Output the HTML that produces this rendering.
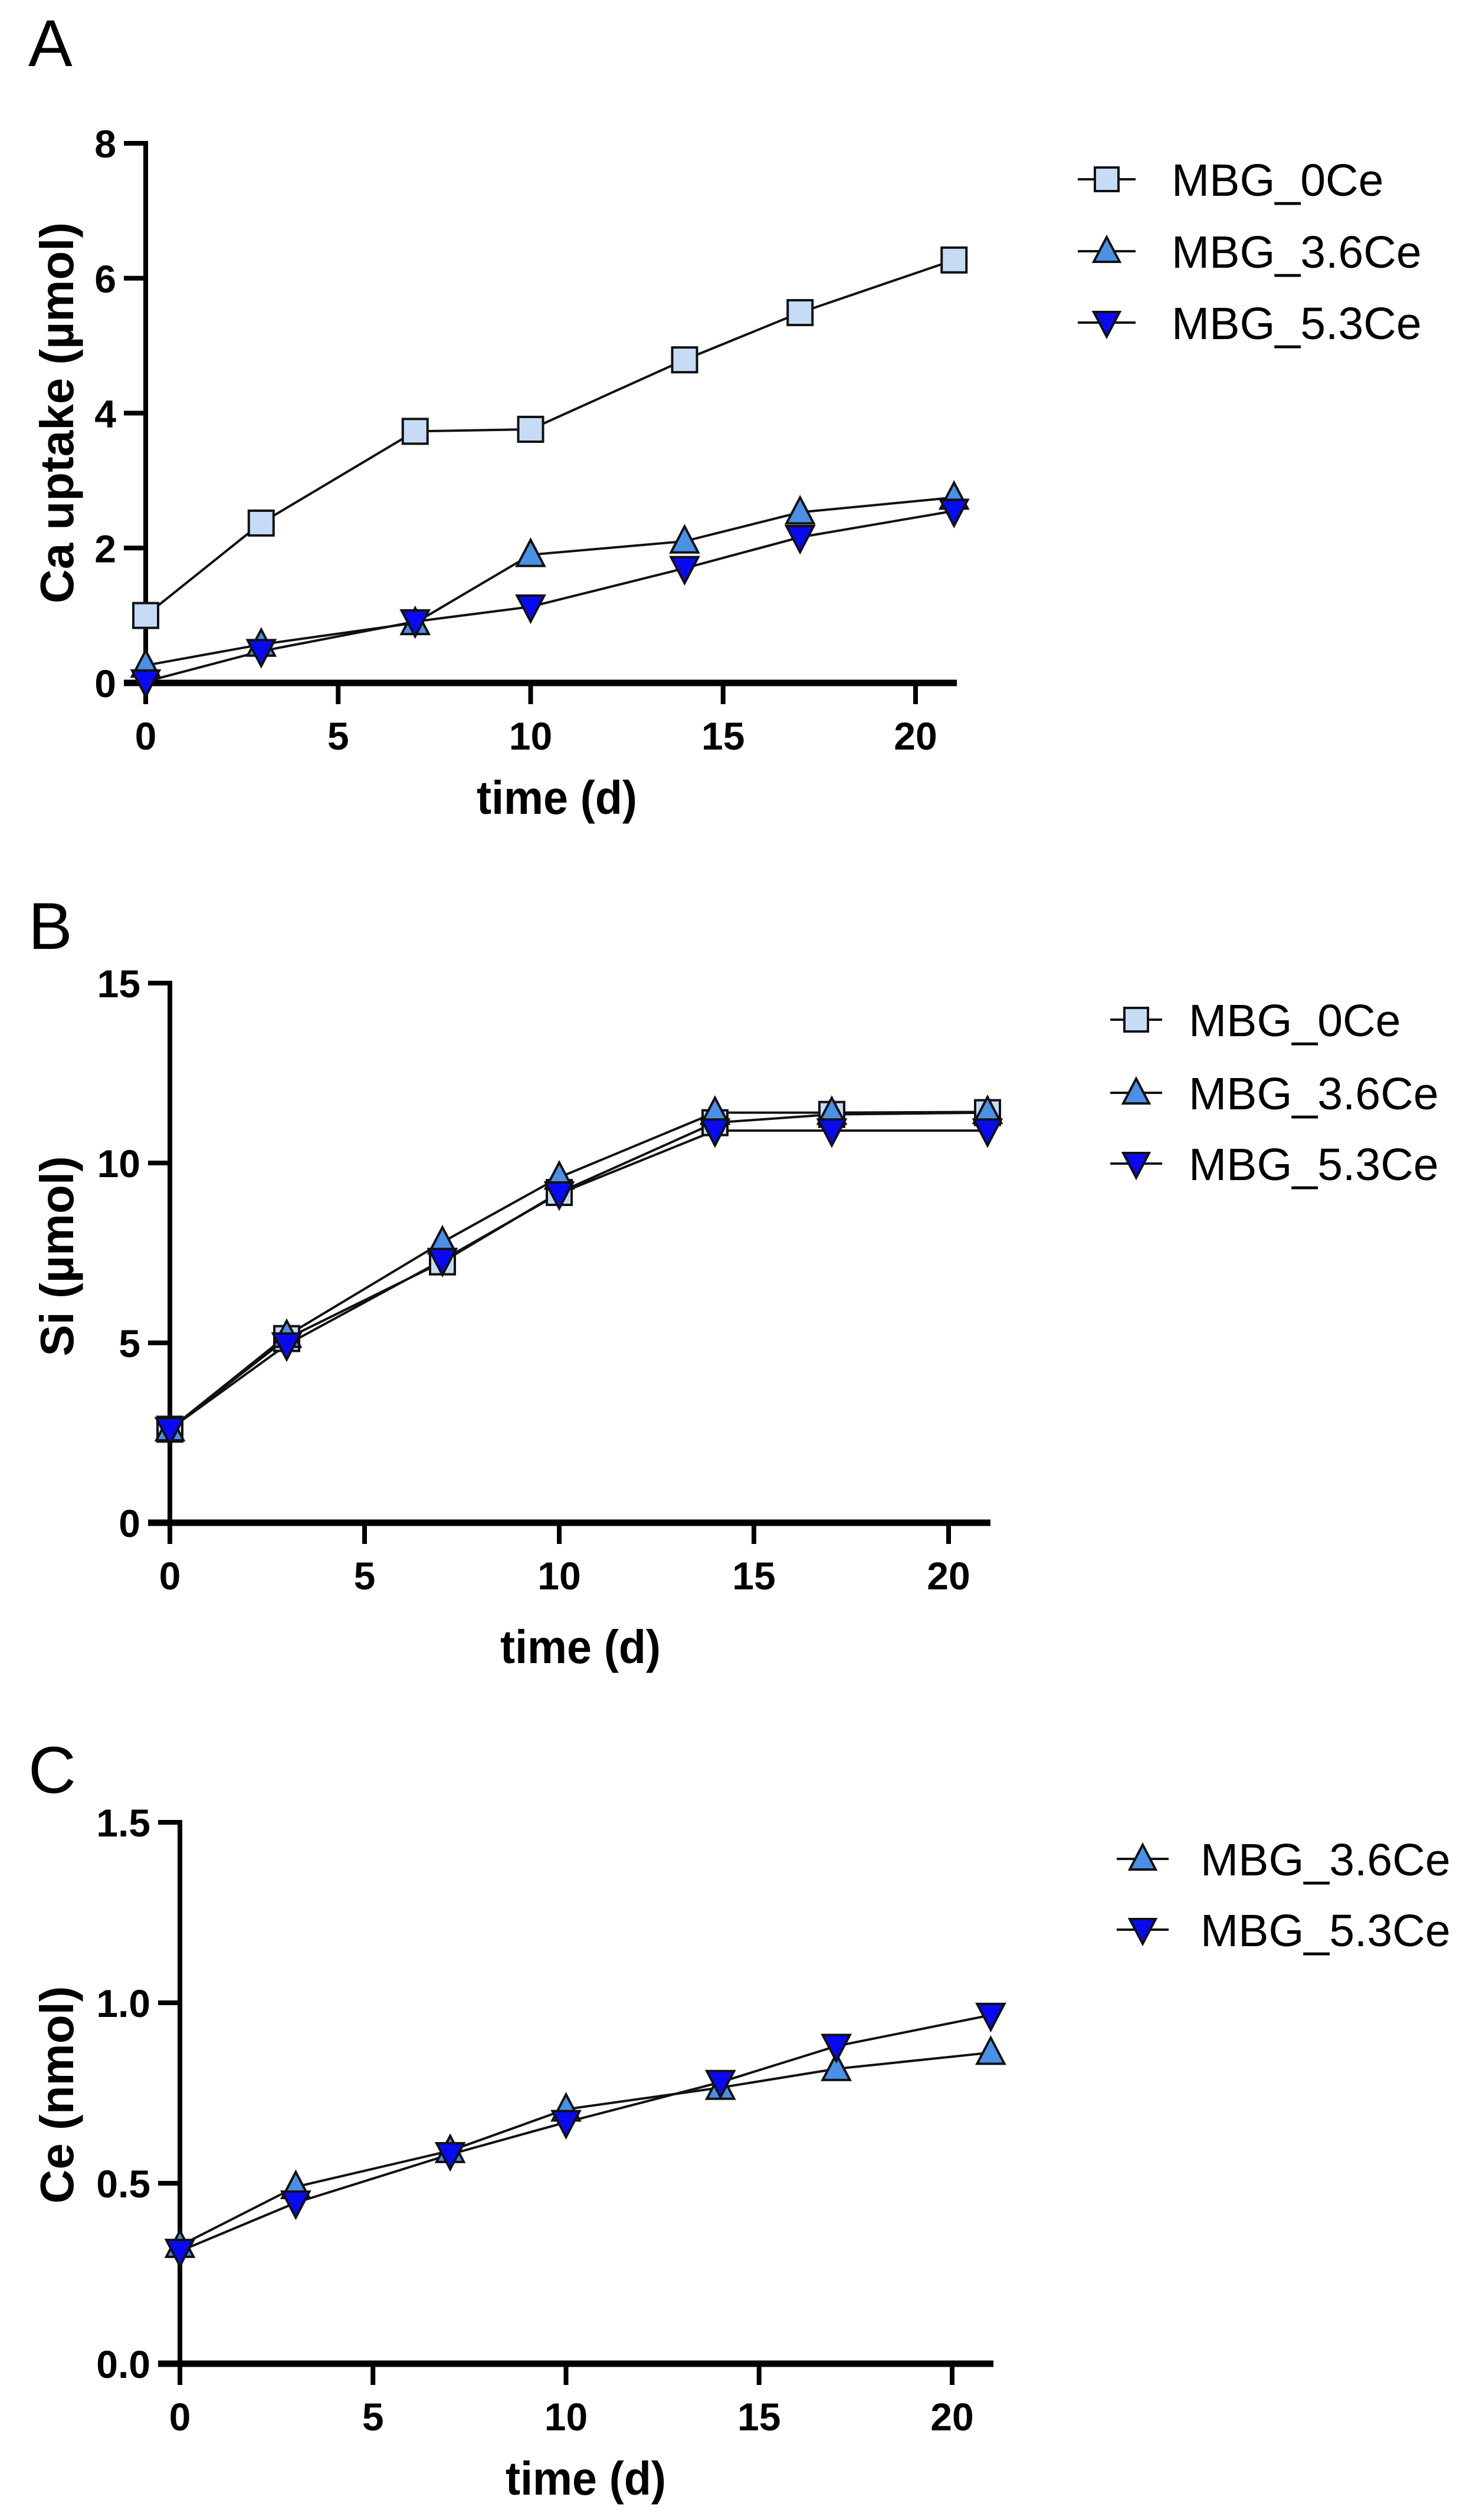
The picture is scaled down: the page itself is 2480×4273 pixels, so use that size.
<!DOCTYPE html>
<html><head><meta charset="utf-8">
<style>
html,body{margin:0;padding:0;background:#fff;}
svg{display:block;font-family:"Liberation Sans",Arial,sans-serif;}
</style></head>
<body>
<svg id="fig" width="2480" height="4273" viewBox="0 0 2480 4273" xmlns="http://www.w3.org/2000/svg">
<rect width="2480" height="4273" fill="#fff"/>
</svg>
<script>
// ---------- data ----------
const days = [0, 3, 7, 10, 14, 17, 21];
const seriesNames = ["MBG_0Ce", "MBG_3.6Ce", "MBG_5.3Ce"];
// Panel A: Ca uptake (µmol)
const caMBG0 = [1.0, 2.37, 3.73, 3.76, 4.79, 5.49, 6.27];
const caMBG36 = [0.26, 0.57, 0.89, 1.9, 2.1, 2.53, 2.75];
const caMBG53 = [0.02, 0.47, 0.91, 1.13, 1.7, 2.16, 2.55];
// Panel B: Si (µmol)
const siMBG0 = [2.6, 5.12, 7.25, 9.18, 11.12, 11.35, 11.4];
const siMBG36 = [2.6, 5.2, 7.8, 9.6, 11.4, 11.4, 11.42];
const siMBG53 = [2.6, 4.95, 7.3, 9.15, 10.9, 10.9, 10.9];
// Panel C: Ce (nmol)
const ceMBG36 = [0.327, 0.49, 0.59, 0.705, 0.765, 0.817, 0.862];
const ceMBG53 = [0.312, 0.446, 0.58, 0.669, 0.78, 0.88, 0.966];
// ticks
const xTicks = [0, 5, 10, 15, 20];
const yTicksA = [0, 2, 4, 6, 8];
const yTicksB = [0, 5, 10, 15];
const yTicksC = [0, 0.5, 1.0, 1.5];
const yTickLabelsC = ["0.0", "0.5", "1.0", "1.5"];

const NS = "http://www.w3.org/2000/svg";
const svg = document.getElementById("fig");
function mk(tag, attrs, parent) {
  const e = document.createElementNS(NS, tag);
  for (const k in attrs) e.setAttribute(k, attrs[k]);
  (parent || svg).appendChild(e);
  return e;
}
const styles = [
  {shape: "square", fill: "#c6dcf6"},
  {shape: "up", fill: "#4a90e6"},
  {shape: "down", fill: "#0a0af2"}
];
function marker(g, shape, cx, cy, fill, s) {
  let el;
  if (shape === "square") {
    el = mk("rect", {x: cx - s / 2, y: cy - s / 2, width: s, height: s, fill: fill, stroke: "#111", "stroke-width": 4}, g);
  } else if (shape === "up") {
    el = mk("polygon", {points: `${cx},${cy - s * 0.6} ${cx - s * 0.55},${cy + s * 0.45} ${cx + s * 0.55},${cy + s * 0.45}`, fill: fill, stroke: "#111", "stroke-width": 4}, g);
  } else {
    el = mk("polygon", {points: `${cx},${cy + s * 0.6} ${cx - s * 0.55},${cy - s * 0.45} ${cx + s * 0.55},${cy - s * 0.45}`, fill: fill, stroke: "#111", "stroke-width": 4}, g);
  }
  return el;
}

function panel(p) {
  const g = mk("g", {});
  
  
  const xs = v => p.ax + v * p.pxPerDay;
  const ys = v => p.y0 - (v - p.yMin) / (p.yMax - p.yMin) * (p.y0 - p.yTop);

  const lt = mk("text", {x: 48, y: p.letterY, "font-size": 112, fill: "#000"}, g);
  lt.textContent = p.letter;
  
  

  const ya = mk("line", {x1: p.ax, y1: p.yTop - 4, x2: p.ax, y2: p.y0 + 35, stroke: "#000", "stroke-width": 8}, g);
  
  
  const xa = mk("line", {x1: p.ax - 37, y1: p.y0, x2: p.xEnd, y2: p.y0, stroke: "#000", "stroke-width": 11}, g);
  
  

  p.yTicks.forEach((v, i) => {
    const y = ys(v);
    const t = mk("line", {x1: p.ax - 37, y1: y, x2: p.ax, y2: y, stroke: "#000", "stroke-width": 8}, g);
    
    
    const tx = mk("text", {x: p.ax - 50, y: y + 24, "font-size": 66, "font-weight": "bold", "text-anchor": "end"}, g);
    tx.textContent = p.yLabels ? p.yLabels[i] : String(v);
    
    
  });
  xTicks.forEach(v => {
    const x = xs(v);
    const t = mk("line", {x1: x, y1: p.y0, x2: x, y2: p.y0 + 36, stroke: "#000", "stroke-width": 8}, g);
    
    
    const tx = mk("text", {x: x, y: p.y0 + 113, "font-size": 66, "font-weight": "bold", "text-anchor": "middle"}, g);
    tx.textContent = String(v);
    
    
  });
  const xt = mk("text", {x: p.xTitleX, y: p.xTitleY, "font-size": 80, "font-weight": "bold", "text-anchor": "middle", textLength: 272, lengthAdjust: "spacingAndGlyphs"}, g);
  xt.textContent = "time (d)";
  
  
  const yt = mk("text", {x: 0, y: 0, "font-size": 80, "font-weight": "bold", "text-anchor": "middle", transform: `translate(124,${p.yTitleY}) rotate(-90)`}, g);
  yt.textContent = p.yTitle;
  
  

  p.series.forEach(s => {
    const sg = mk("g", {}, g);
    
    
    const pts = days.map((d, i) => `${xs(d)},${ys(s.vals[i])}`).join(" ");
    const pl = mk("polyline", {points: pts, fill: "none", stroke: "#111", "stroke-width": 4}, sg);
    
    
  });
  p.series.forEach(s => {
    const st = styles[s.idx];
    days.forEach((d, i) => {
      const m = marker(g, st.shape, xs(d), ys(s.vals[i]), st.fill, 42);
      
      
    });
  });

  const lg = mk("g", {}, g);
  
  
  p.series.forEach((s, k) => {
    const st = styles[s.idx];
    const y = p.legRows[k];
    const eg = mk("g", {}, lg);
    
    
    mk("line", {x1: p.legX1, y1: y, x2: p.legX2, y2: y, stroke: "#111", "stroke-width": 4}, eg);
    marker(eg, st.shape, (p.legX1 + p.legX2) / 2, y, st.fill, 40);
    const t = mk("text", {x: p.legText, y: y + 28, "font-size": 77}, eg);
    t.textContent = seriesNames[s.idx];
  });
}

panel({id: "a", letter: "A", letterY: 112, ax: 247, pxPerDay: 65.25, xEnd: 1622,
  y0: 1158, yTop: 243, yMin: 0, yMax: 8, yTicks: yTicksA,
  xTitleX: 944, xTitleY: 1380, yTitle: "Ca uptake (µmol)", yTitleY: 700,
  series: [{idx: 0, vals: caMBG0}, {idx: 1, vals: caMBG36}, {idx: 2, vals: caMBG53}],
  legRows: [304, 426, 547], legX1: 1827, legX2: 1925, legText: 1986});

panel({id: "b", letter: "B", letterY: 1609, ax: 288, pxPerDay: 66, xEnd: 1679,
  y0: 2582, yTop: 1667, yMin: 0, yMax: 15, yTicks: yTicksB,
  xTitleX: 984, xTitleY: 2820, yTitle: "Si (µmol)", yTitleY: 2130,
  series: [{idx: 0, vals: siMBG0}, {idx: 1, vals: siMBG36}, {idx: 2, vals: siMBG53}],
  legRows: [1729, 1853, 1973], legX1: 1882, legX2: 1970, legText: 2015});

panel({id: "c", letter: "C", letterY: 3040, ax: 305, pxPerDay: 65.45, xEnd: 1684,
  y0: 4008, yTop: 3090, yMin: 0, yMax: 1.5, yTicks: yTicksC, yLabels: yTickLabelsC,
  xTitleX: 993, xTitleY: 4230, yTitle: "Ce (nmol)", yTitleY: 3552,
  series: [{idx: 1, vals: ceMBG36}, {idx: 2, vals: ceMBG53}],
  legRows: [3152, 3272], legX1: 1893, legX2: 1981, legText: 2035});
</script>
</body></html>
